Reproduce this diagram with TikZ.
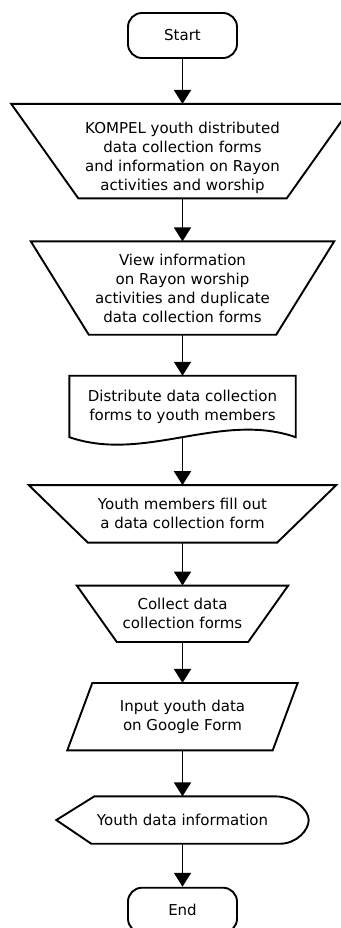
\documentclass[tikz,border=0pt]{standalone}
\usepackage{fontspec}
\setmainfont{DejaVu Sans}
\usetikzlibrary{positioning, arrows.meta, calc}

\begin{document}
\begin{tikzpicture}[
                x=1pt, y=1pt,
                flowtext/.style={font=\fontsize{15}{19}\selectfont, align=center, inner sep=0pt},
                terminal/.style={flowtext, draw=black, line width=1.9pt, rectangle, rounded corners=14pt, minimum width=109pt, minimum height=45pt},
                slot/.style={flowtext, rectangle},
                outline/.style={draw=black, line width=1.9pt},
                flow/.style={line width=1.9pt, -{Triangle[length=14pt, width=17pt]}}
            ]

            \useasboundingbox (0,0) rectangle (340,-928);

            % Knoten
            \node[terminal] (start) at (182.5,-35.5) {Start};
            \node[slot, minimum width=342pt, minimum height=94pt, below=45pt of start] (distrib) {\rule{0pt}{25pt}KOMPEL youth distributed\\data collection forms\\and information on Rayon\\activities and worship};
            \node[slot, minimum width=303pt, minimum height=93pt, below=43pt of distrib] (view) {View information\\on Rayon worship\\activities and duplicate\\data collection forms};
            \node[slot, minimum width=226pt, minimum height=61pt, below=41pt of view] (doc) {Distribute data collection\\forms to youth members};
            \node[slot, minimum width=307pt, minimum height=57pt, below=48pt of doc] (fillout) {Youth members fill out\\a data collection form};
            \node[slot, minimum width=211pt, minimum height=56pt, below=43pt of fillout] (collect) {Collect data\\collection forms};
            \node[slot, minimum width=230pt, minimum height=67pt, below=41pt of collect] (input) {Input youth data\\on Google Form};
            \node[slot, minimum width=252pt, minimum height=47pt, below=46pt of input] (disp) {Youth data information};
            \node[terminal, below=43pt of disp] (end) {End};

            % Umrisse
            \draw[outline] (distrib.north west) -- (distrib.north east) -- ([xshift=-67pt]distrib.south east) -- ([xshift=67pt]distrib.south west) -- cycle;
            \draw[outline] (view.north west) -- (view.north east) -- ([xshift=-58pt]view.south east) -- ([xshift=58pt]view.south west) -- cycle;
            \draw[outline] (doc.north west) -- (doc.north east) -- (doc.south east) .. controls ([xshift=-75pt, yshift=26pt]doc.south east) and ([xshift=75pt, yshift=-26pt]doc.south west) .. (doc.south west) -- cycle;
            \draw[outline] (fillout.north west) -- (fillout.north east) -- ([xshift=-59pt]fillout.south east) -- ([xshift=59pt]fillout.south west) -- cycle;
            \draw[outline] (collect.north west) -- (collect.north east) -- ([xshift=-40pt]collect.south east) -- ([xshift=40pt]collect.south west) -- cycle;
            \draw[outline] ([xshift=25pt]input.north west) -- (input.north east) -- ([xshift=-25pt]input.south east) -- (input.south west) -- cycle;
            \draw[outline] (disp.west) -- ([xshift=38pt]disp.north west) -- ([xshift=-34pt]disp.north east) .. controls ([xshift=-14pt]disp.north east) and ([yshift=10pt]disp.east) .. (disp.east) .. controls ([yshift=-10pt]disp.east) and ([xshift=-12pt]disp.south east) .. ([xshift=-29pt]disp.south east) -- ([xshift=35pt]disp.south west) -- cycle;

            % Pfeile
            \draw[flow] (start.south) -- (distrib.north);
            \draw[flow] (distrib.south) -- (view.north);
            \draw[flow] (view.south) -- (doc.north);
            \draw[flow] (doc.south) -- (fillout.north);
            \draw[flow] (fillout.south) -- (collect.north);
            \draw[flow] (collect.south) -- (input.north);
            \draw[flow] (input.south) -- (disp.north);
            \draw[flow] (disp.south) -- (end.north);

\end{tikzpicture}
\end{document}
